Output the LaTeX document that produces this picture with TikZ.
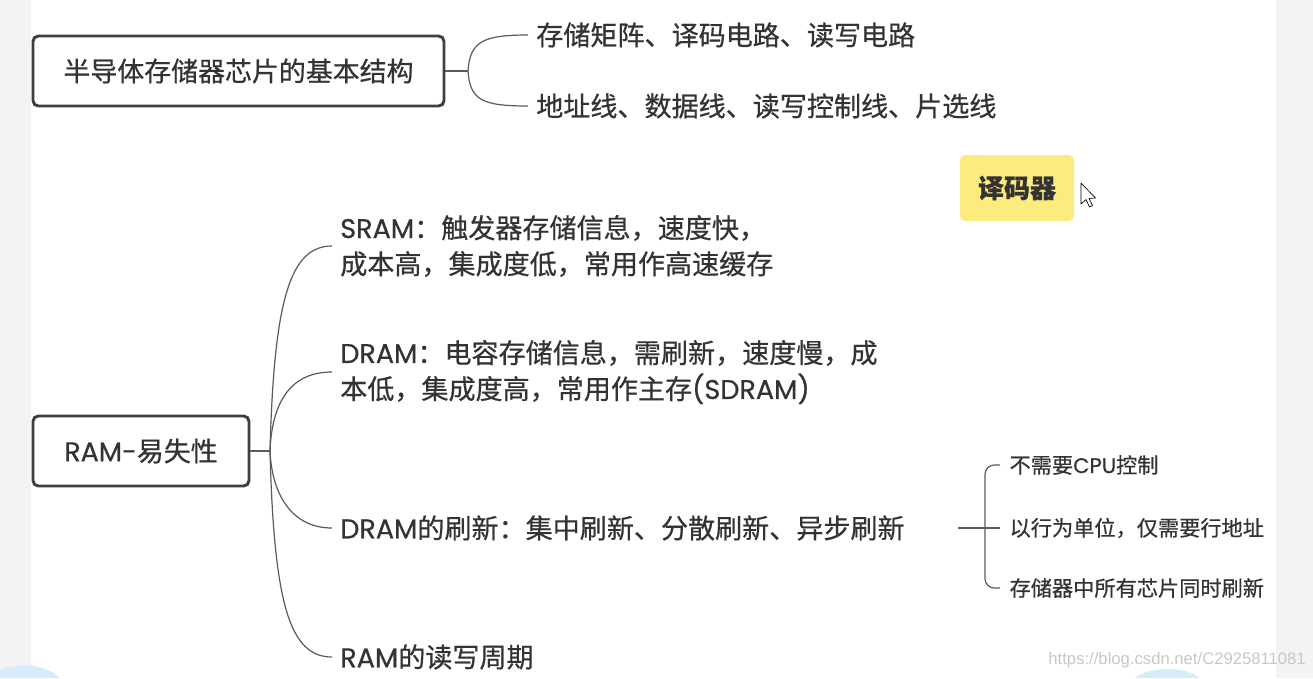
\documentclass[tikz,border=0pt]{standalone}
\usepackage{fontspec}
\setmainfont{Noto Sans CJK SC}[FakeBold=0.6]
\newfontfamily\wmfont{Liberation Sans}
\newfontfamily\lat{Poppins}[FakeBold=0.6]
\definecolor{textc}{RGB}{51,51,51}
\definecolor{boxc}{RGB}{60,63,68}
\definecolor{connc}{RGB}{90,90,90}
\definecolor{yellowc}{RGB}{252,235,125}
\definecolor{stripc}{RGB}{243,243,244}
\definecolor{wmc}{RGB}{200,200,200}
\definecolor{blobc}{RGB}{214,236,248}
\begin{document}
\begin{tikzpicture}[x=0.75pt,y=-0.75pt,
  mainbox/.style={draw=boxc, line width=2.2pt, rounded corners=4pt, fill=white,
    text=textc, font=\fontsize{20.2}{24}\selectfont, inner sep=0pt},
  txt/.style={anchor=west, text=textc, inner xsep=6pt, inner ysep=0pt,
    font=\fontsize{20.3}{27}\selectfont, align=left},
  subtxt/.style={anchor=west, text=textc, inner xsep=7pt, inner ysep=0pt,
    font=\fontsize{15.9}{20}\selectfont},
  conn/.style={draw=connc, line width=0.9pt}]
\useasboundingbox (0,0) rectangle (1313,678);
\fill[white] (0,0) rectangle (1313,678);
\fill[stripc] (0,0) rectangle (31,678);
\fill[stripc] (1276,0) rectangle (1313,678);
\fill[blobc] (0,670) .. controls (20,662) and (45,664) .. (60,678) -- (0,678) -- cycle;
\fill[blobc] (1135,678) .. controls (1150,666) and (1185,666) .. (1200,678) -- cycle;

% top group
\node[mainbox, minimum width=308.25pt, minimum height=52.5pt] (b1) at (238.5,71) {半导体存储器芯片的基本结构};
\node[txt] (t1) at (528,35) {存储矩阵、译码电路、读写电路};
\node[txt] (t2) at (528,106) {地址线、数据线、读写控制线、片选线};
\coordinate (j1) at (468,71);
\draw[conn] (b1.east) -- (j1);
\draw[conn] (j1) .. controls (470,42) and (482,35) .. (t1.west);
\draw[conn] (j1) .. controls (470,100) and (482,106) .. (t2.west);

% decoder label
\node[fill=yellowc, rounded corners=4pt, minimum width=85.5pt, minimum height=49.5pt,
  text=textc, font=\fontsize{19.5}{24}\selectfont\bfseries, inner sep=0pt] (dec) at (1017,188) {译码器};
\draw[fill=white, draw=black, line width=0.5pt, line join=round]
  (1081,183) -- (1081,204) -- (1086,199.5) -- (1089.5,207) -- (1092.5,205.5) -- (1089,198.5) -- (1095.5,198) -- cycle;

% RAM group
\node[mainbox, minimum width=162pt, minimum height=52.5pt] (b2) at (141,451) {{\lat RAM-}易失性};
\coordinate (j2) at (270,451);
\draw[conn] (b2.east) -- (j2);
\node[txt] (s1) at (332,246) {{\lat SRAM}：触发器存储信息，速度快，\\成本高，集成度低，常用作高速缓存};
\node[txt] (s2) at (332,372) {{\lat DRAM}：电容存储信息，需刷新，速度慢，成\\本低，集成度高，常用作主存{\lat (SDRAM)}};
\node[txt] (s3) at (332,528) {{\lat DRAM}的刷新：集中刷新、分散刷新、异步刷新};
\node[txt] (s4) at (332,657) {{\lat RAM}的读写周期};
\draw[conn] (j2) .. controls (274,300) and (290,246) .. (s1.west);
\draw[conn] (j2) .. controls (272,400) and (292,372) .. (s2.west);
\draw[conn] (j2) .. controls (272,495) and (292,528) .. (s3.west);
\draw[conn] (j2) .. controls (274,605) and (290,657) .. (s4.west);

% refresh details
\node[subtxt] (r1) at (1000,465) {不需要{\lat CPU}控制};
\node[subtxt] (r2) at (1000,528) {以行为单位，仅需要行地址};
\node[subtxt] (r3) at (1000,588) {存储器中所有芯片同时刷新};
\coordinate (j3) at (958,528);
\coordinate (jb) at (985,528);
\draw[conn] (j3) -- (r2.west);
\draw[conn, rounded corners=7pt] (r1.west) -| (jb) |- (r3.west);

% watermark
\node[anchor=east, text=wmc, font=\wmfont\fontsize{12.5}{14}\selectfont, inner sep=0pt] (wm) at (1306,660) {https://blog.csdn.net/C2925811081};
\end{tikzpicture}
\end{document}
